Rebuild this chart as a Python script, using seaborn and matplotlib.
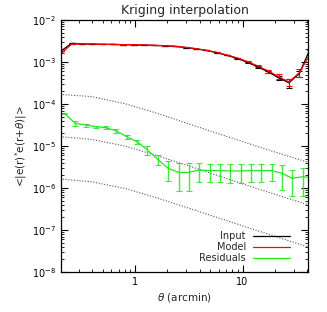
import numpy as np
import pandas as pd
import seaborn as sns
import matplotlib
matplotlib.use('Agg')
import matplotlib.pyplot as plt
from matplotlib.ticker import LogLocator, NullFormatter, FixedLocator

# theta grid of the input / model curves (arcmin)
theta_top = [0.206, 0.257, 0.321, 0.400, 0.500, 0.624, 0.778, 0.972, 1.213, 1.514,
             1.890, 2.36, 2.945, 3.675, 4.59, 5.73, 7.15, 8.93, 11.14, 13.91,
             17.36, 21.67, 27.05, 33.76, 42.14]
input_vals = [1.86e-3, 2.78e-3, 2.70e-3, 2.66e-3, 2.63e-3, 2.61e-3, 2.58e-3, 2.55e-3, 2.52e-3, 2.47e-3,
              2.43e-3, 2.34e-3, 2.21e-3, 2.06e-3, 1.88e-3, 1.67e-3, 1.44e-3, 1.21e-3, 9.8e-4, 7.6e-4,
              5.8e-4, 4.2e-4, 3.2e-4, 5.3e-4, 1.93e-3]
input_err = [0, 0, 0, 0, 0, 0, 0, 0, 0, 0,
             0, 0, 0, 0, 0, 0, 0, 2e-5, 2e-5, 3e-5,
             4e-5, 5e-5, 8e-5, 9e-5, 0]
model_vals = [1.61e-3, 2.68e-3, 2.68e-3, 2.68e-3, 2.63e-3, 2.63e-3, 2.59e-3, 2.59e-3, 2.54e-3, 2.49e-3,
              2.45e-3, 2.36e-3, 2.23e-3, 2.08e-3, 1.90e-3, 1.70e-3, 1.47e-3, 1.25e-3, 1.02e-3, 8.0e-4,
              6.1e-4, 4.48e-4, 3.34e-4, 5.57e-4, 1.47e-3]
model_err = [0, 0, 0, 0, 0, 0, 0, 0, 0, 0,
             0, 0, 0, 0, 0, 0, 0, 2e-5, 3e-5, 3e-5,
             5e-5, 6e-5, 6e-5, 1.2e-4, 0]

# theta grid of the residuals
theta_res = [0.2195, 0.276, 0.349, 0.433, 0.537, 0.670, 0.836, 1.044, 1.303, 1.627,
             2.03, 2.535, 3.165, 3.95, 4.93, 6.15, 7.68, 9.59, 11.97, 14.94,
             18.65, 23.3, 29.05, 36.3, 45.3]
res_vals = [6.0e-5, 3.47e-5, 3.16e-5, 2.88e-5, 2.73e-5, 2.28e-5, 1.66e-5, 1.27e-5, 8.0e-6, 4.8e-6,
            2.94e-6, 2.36e-6, 2.36e-6, 2.68e-6, 2.6e-6, 2.6e-6, 2.55e-6, 2.55e-6, 2.6e-6, 2.6e-6,
            2.6e-6, 2.24e-6, 1.7e-6, 1.86e-6, 1.75e-6]
res_err = [1e-6, 4e-6, 2.5e-6, 1.5e-6, 2e-6, 2e-6, 1.8e-6, 1.3e-6, 1.8e-6, 1.3e-6,
           1.5e-6, 1.5e-6, 1.5e-6, 1.3e-6, 1.2e-6, 1.2e-6, 1.25e-6, 1.2e-6, 1.2e-6, 1.2e-6,
           1.1e-6, 1.35e-6, 1.05e-6, 1.2e-6, 0]

# reference dotted curves
theta_ref = [0.2, 0.392, 0.80, 1.64, 3.35, 6.85, 14.0, 28.6, 41.0]
ref_high = [1.70e-4, 1.50e-4, 1.02e-4, 5.9e-5, 3.2e-5, 1.75e-5, 9.6e-6, 5.4e-6, 4.1e-6]
ref_mid = [1.67e-5, 1.44e-5, 1.0e-5, 5.8e-6, 3.2e-6, 1.73e-6, 9.5e-7, 5.3e-7, 4.0e-7]
ref_low = [1.64e-6, 1.41e-6, 9.8e-7, 5.7e-7, 3.16e-7, 1.73e-7, 9.5e-8, 5.3e-8, 3.9e-8]

x_ticks = [1, 10]
y_ticks = [1e-8, 1e-7, 1e-6, 1e-5, 1e-4, 1e-3, 1e-2]

green = '#22e622'

sns.set_style('ticks')
plt.rcParams['font.family'] = ['DejaVu Sans']
plt.rcParams['mathtext.fontset'] = 'dejavusans'

fig = plt.figure(figsize=(3.27, 3.12), dpi=100)
ax = fig.add_axes([0.1865, 0.128, 0.7555, 0.808])

# dotted reference curves
for ref in (ref_high, ref_mid, ref_low):
    ax.plot(theta_ref, ref, linestyle=(0, (1, 1.5)), color='#555555', linewidth=0.8)

# error bars
ax.errorbar(theta_top, input_vals, yerr=input_err, fmt='none', ecolor='black',
            elinewidth=0.8, capsize=2, capthick=0.8)
ax.errorbar(theta_top, model_vals, yerr=model_err, fmt='none', ecolor='red',
            elinewidth=0.8, capsize=2, capthick=0.8)
ax.errorbar(theta_res, res_vals, yerr=res_err, fmt='none', ecolor=green,
            elinewidth=1.0, capsize=2, capthick=0.8, alpha=0.85)

# curves
sns.lineplot(x=theta_top, y=input_vals, color='black', linewidth=0.9, label='Input', ax=ax)
sns.lineplot(x=theta_top, y=model_vals, color='red', linewidth=0.9, label='Model', ax=ax)
sns.lineplot(x=theta_res, y=res_vals, color=green, linewidth=0.9, label='Residuals', ax=ax)

ax.set_xscale('log')
ax.set_yscale('log')
ax.set_xlim(0.204, 40.7)
ax.set_ylim(1e-8, 1e-2)

ax.xaxis.set_major_locator(FixedLocator(x_ticks))
ax.yaxis.set_major_locator(FixedLocator(y_ticks))
ax.xaxis.set_minor_locator(LogLocator(base=10, subs=np.arange(2, 10), numticks=10))
ax.yaxis.set_minor_locator(LogLocator(base=10, subs=np.arange(2, 10), numticks=10))
ax.xaxis.set_minor_formatter(NullFormatter())
ax.yaxis.set_minor_formatter(NullFormatter())
ax.xaxis.set_major_formatter(plt.FuncFormatter(lambda v, _: f'{v:g}'))
ax.yaxis.set_major_formatter(plt.FuncFormatter(lambda v, _: f'$10^{{{np.log10(v):.0f}}}$'))

ax.tick_params(which='both', direction='in', top=True, right=True, colors='black', labelsize=7)
ax.tick_params(which='major', length=5, width=0.8)
ax.tick_params(which='minor', length=2.5, width=0.6)
for s in ax.spines.values():
    s.set_linewidth(0.9)
    s.set_color('black')

ax.set_title('Kriging interpolation', fontsize=9, pad=4)
ax.set_xlabel(r'$\theta$ (arcmin)', fontsize=7.5, labelpad=3)
ax.set_ylabel(r'<|e(r)$^{*}$e(r+$\theta$)|>', fontsize=7.5, labelpad=2)

ax.legend(loc='lower right', bbox_to_anchor=(0.945, 0.015), markerfirst=False, frameon=False,
          fontsize=7, handlelength=3.8, handletextpad=0.7, labelspacing=0.1, borderpad=0)

plt.savefig('out.png', dpi=100)
